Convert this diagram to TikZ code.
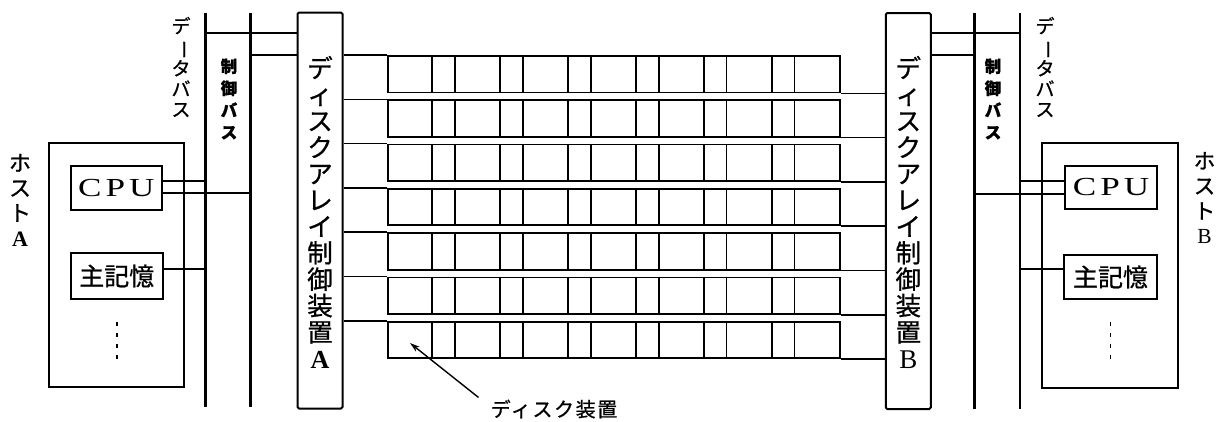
\documentclass[tikz,border=0pt]{standalone}
\usepackage{fontspec}
\setmainfont{Liberation Serif}
\newfontfamily\jp{Noto Sans CJK JP}[FakeBold=0.8]
\newfontfamily\jpsp{Noto Sans CJK JP}[LetterSpace=8,FakeBold=0.8]
\usetikzlibrary{arrows.meta}
\newcommand{\vbar}{\rotatebox[origin=c]{-90}{ー}}
\newcommand{\cpulbl}{\scalebox{1.35}[1.0]{C\kern3pt P\kern3pt U}}
\begin{document}
\begin{tikzpicture}[x=1pt,y=-1pt,
  box/.style={draw, line width=1.9pt, inner sep=0pt, rectangle},
  ctrl/.style={box, line width=2pt, rounded corners=1.5pt, minimum width=45pt, minimum height=396pt},
  diskrow/.style={draw, line width=1.8pt, inner sep=0pt, minimum width=452pt, minimum height=36.5pt, anchor=north west},
  bus/.style={line width=2.8pt},
  wire/.style={line width=1.6pt},
  grid/.style={line width=1.8pt},
  vt/.style={inner sep=0pt, align=center},
  arr/.style={line width=1.4pt, -{Stealth[length=10pt,width=6pt]}}]
\useasboundingbox (0,0) rectangle (1217,421);

% controllers
\node[ctrl] (ctrlA) at (320,210.5) {};
\node[ctrl] (ctrlB) at (908.3,211) {};
\node[vt, font=\jp\fontsize{25.5}{26.4}\selectfont] (ctrlAtxt) at (320,212)
  {デ\\ィ\\ス\\ク\\ア\\レ\\イ\\制\\御\\装\\置\\{\rmfamily\bfseries\fontsize{26}{26.4}\selectfont A}};
\node[vt, font=\jp\fontsize{25.5}{26.4}\selectfont] (ctrlBtxt) at (908.3,212)
  {デ\\ィ\\ス\\ク\\ア\\レ\\イ\\制\\御\\装\\置\\{\rmfamily\fontsize{27}{26.4}\selectfont B}};

% buses
\coordinate (dAt) at (205.7,13); \coordinate (dAb) at (205.7,407);
\coordinate (cAt) at (250.7,13); \coordinate (cAb) at (250.7,407);
\coordinate (cBt) at (974.3,13); \coordinate (cBb) at (974.3,409);
\coordinate (dBt) at (1020,13); \coordinate (dBb) at (1020,409);
\draw[bus] (dAt) -- (dAb);
\draw[bus] (cAt) -- (cAb);
\draw[bus] (cBt) -- (cBb);
\draw[bus] (dBt) -- (dBb);

\node[vt, font=\jp\fontsize{19}{20.5}\selectfont] (dAtxt) at (181,67) {デ\\\vbar\\タ\\バ\\ス};
\node[vt, font=\jp\bfseries\fontsize{16.5}{22}\selectfont] (cAtxt) at (229,99) {制\\御\\バ\\ス};
\node[vt, font=\jp\fontsize{19}{20.5}\selectfont] (dBtxt) at (1045,67) {デ\\\vbar\\タ\\バ\\ス};
\node[vt, font=\jp\bfseries\fontsize{16.5}{22}\selectfont] (cBtxt) at (993,99) {制\\御\\バ\\ス};

% bus to controller
\draw[wire] (ctrlA.west |- 0,33) -- (dAt |- 0,33);
\draw[wire] (ctrlA.west |- 0,55) -- (cAt |- 0,55);
\draw[wire] (ctrlB.east |- 0,33) -- (dBt |- 0,33);
\draw[wire] (ctrlB.east |- 0,55) -- (cBt |- 0,55);

% hosts
\node[box, line width=1.7pt, minimum width=135pt, minimum height=244pt] (hostA) at (116.5,265) {};
\node[box, minimum width=91pt, minimum height=44pt, font=\rmfamily\fontsize{26}{26}\selectfont] (cpuA) at (116.3,188) {\cpulbl};
\node[box, minimum width=92pt, minimum height=46pt, font=\jp\fontsize{25}{25}\selectfont] (memA) at (116.7,276) {主記憶};
\node[box, line width=1.7pt, minimum width=136pt, minimum height=245pt] (hostB) at (1110,265.5) {};
\node[box, minimum width=92pt, minimum height=43pt, font=\rmfamily\fontsize{26}{26}\selectfont] (cpuB) at (1111,187.5) {\cpulbl};
\node[box, minimum width=93pt, minimum height=44pt, font=\jp\fontsize{25}{25}\selectfont] (memB) at (1110.5,277) {主記憶};

\draw[line width=1.6pt, dash pattern=on 4pt off 7pt] (memA.south |- 0,322) -- (memA.south |- 0,364);
\draw[line width=1.6pt, dash pattern=on 4pt off 7pt] (memB.south |- 0,322) -- (memB.south |- 0,364);

\node[vt, font=\jp\fontsize{22}{25}\selectfont] (hAtxt) at (20,200) {ホ\\ス\\ト\\{\rmfamily\bfseries A}};
\node[vt, font=\jp\fontsize{21.5}{25}\selectfont] (hBtxt) at (1204.5,198) {ホ\\ス\\ト\\{\rmfamily B}};

% host to bus
\draw[wire] (cpuA.east |- 0,181) -- (dAt |- 0,181);
\draw[wire] (cpuA.east |- 0,193) -- (cAt |- 0,193);
\draw[wire] (memA.east |- 0,269) -- (dAt |- 0,269);
\draw[wire] (cpuB.west |- 0,181) -- (dBt |- 0,181);
\draw[wire] (cpuB.west |- 0,194) -- (cBt |- 0,194);
\draw[wire] (memB.west |- 0,269) -- (dBt |- 0,269);

% disk rows
\foreach \i in {0,...,6}{
  \pgfmathsetmacro\t{55+\i*44.3}
  \node[diskrow] (r\i) at (387,\t) {};
  \foreach \k in {1,...,6}{
    \draw[grid] ([xshift=\k*67.9pt-22.6pt]r\i.north west) -- ([xshift=\k*67.9pt-22.6pt]r\i.south west);
    \draw[grid] ([xshift=\k*67.9pt]r\i.north west) -- ([xshift=\k*67.9pt]r\i.south west);
  }
  \draw[wire] (r\i.north west) -- (r\i.north west -| ctrlA.east);
  \draw[wire] (r\i.south east) -- (r\i.south east -| ctrlB.west);
}

% label
\node[inner sep=0pt, font=\jpsp\fontsize{20}{20}\selectfont] (disklbl) at (554,409) {ディスク装置};
\coordinate (arre) at (410,343);
\draw[arr] ([xshift=-12pt,yshift=2pt]disklbl.north west) -- (arre);
\end{tikzpicture}
\end{document}
